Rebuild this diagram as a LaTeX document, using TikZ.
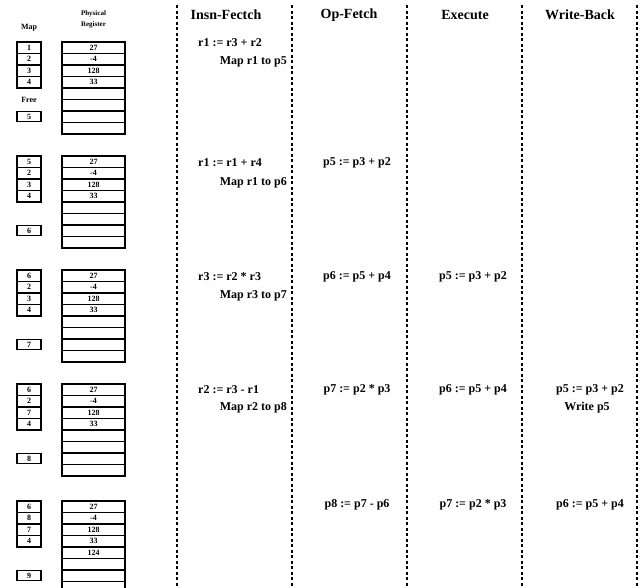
\documentclass[tikz,border=0pt]{standalone}
\usepackage{fontspec}
\setmainfont{Liberation Serif}
\begin{document}
\begin{tikzpicture}[x=1pt,y=-1pt,
  cell/.style={draw,line width=1.2pt,inner sep=0pt,font=\bfseries\fontsize{8}{9}\selectfont},
  mapc/.style={cell,minimum width=24pt,minimum height=11.5pt},
  regc/.style={cell,minimum width=63pt,minimum height=11.5pt},
  small/.style={font=\bfseries\fontsize{8}{9}\selectfont,inner sep=0pt},
  hdr/.style={font=\bfseries\fontsize{14}{16}\selectfont,inner sep=0pt},
  txt/.style={font=\bfseries\fontsize{12}{14}\selectfont,inner sep=0pt},
  sep/.style={line width=1.2pt,dash pattern=on 3pt off 2.5pt}]
\useasboundingbox (0,0) rectangle (644,587);
\clip (0,0) rectangle (644,587);
% headers
\node[small] (hmap) at (29,28) {Map};
\node[small,font=\bfseries\fontsize{7}{8}\selectfont] (hphys) at (93.5,14) {Physical};
\node[small,font=\bfseries\fontsize{7}{8}\selectfont] (hreg) at (93.5,25) {Register};
\node[small] (hfree) at (29,100) {Free};
\node[hdr] (h1) at (226,15) {Insn-Fectch};
\node[hdr] (h2) at (349,15) {Op-Fetch};
\node[hdr] (h3) at (465,15) {Execute};
\node[hdr] (h4) at (580,15) {Write-Back};
% separators
\foreach \x/\n in {177/a,292/b,407/c,522/d,637/e}{
  \coordinate (\n t) at (\x,5);
  \coordinate (\n b) at (\x,590);
  \draw[sep] (\n t) -- (\n b);
}
% blocks
\foreach \b/\T/\ma/\mb/\mc/\md/\fr/\rv in {
  1/42/1/2/3/4/5/{},
  2/156/5/2/3/4/6/{},
  3/270/6/2/3/4/7/{},
  4/384/6/2/7/4/8/{},
  5/501/6/8/7/4/9/124}{
  \node[mapc] (m\b a) at (29,\T+5.75) {\ma};
  \node[mapc] (m\b b) at (29,\T+17.25) {\mb};
  \node[mapc] (m\b c) at (29,\T+28.75) {\mc};
  \node[mapc] (m\b d) at (29,\T+40.25) {\md};
  \node[mapc,minimum height=10pt] (f\b) at (29,\T+74.5) {\fr};
  \node[regc] (r\b a) at (93.5,\T+5.75) {27};
  \node[regc] (r\b b) at (93.5,\T+17.25) {-4};
  \node[regc] (r\b c) at (93.5,\T+28.75) {128};
  \node[regc] (r\b d) at (93.5,\T+40.25) {33};
  \node[regc] (r\b e) at (93.5,\T+51.75) {\rv};
  \node[regc] (r\b f) at (93.5,\T+63.25) {};
  \node[regc] (r\b g) at (93.5,\T+74.75) {};
  \node[regc] (r\b h) at (93.5,\T+86.25) {};
}
% Insn-Fetch column
\node[txt,anchor=west] (i1) at (198,43) {r1 := r3 + r2};
\node[txt,anchor=east] (i1m) at (287,62) {Map r1 to p5};
\node[txt,anchor=west] (i2) at (198,163) {r1 := r1 + r4};
\node[txt,anchor=east] (i2m) at (287,183) {Map r1 to p6};
\node[txt,anchor=west] (i3) at (198,277) {r3 := r2 * r3};
\node[txt,anchor=east] (i3m) at (287,296) {Map r3 to p7};
\node[txt,anchor=west] (i4) at (198,390) {r2 := r3 - r1};
\node[txt,anchor=east] (i4m) at (287,408) {Map r2 to p8};
% Op-Fetch column
\node[txt] (o2) at (357,163) {p5 := p3 + p2};
\node[txt] (o3) at (357,277) {p6 := p5 + p4};
\node[txt] (o4) at (357,390) {p7 := p2 * p3};
\node[txt] (o5) at (357,505) {p8 := p7 - p6};
% Execute column
\node[txt] (e3) at (473,277) {p5 := p3 + p2};
\node[txt] (e4) at (473,390) {p6 := p5 + p4};
\node[txt] (e5) at (473,505) {p7 := p2 * p3};
% Write-Back column
\node[txt] (w4) at (590,390) {p5 := p3 + p2};
\node[txt] (w4m) at (587,408) {Write p5};
\node[txt] (w5) at (590,505) {p6 := p5 + p4};
\end{tikzpicture}
\end{document}
